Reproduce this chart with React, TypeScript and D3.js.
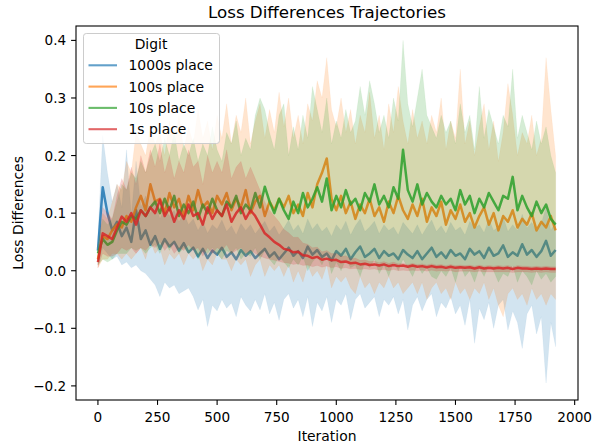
import React from 'react';
import * as d3 from 'd3';

// iteration index of every logged point
const iterations = d3.range(0, 1921, 20);

const digits = ['1000s place', '100s place', '10s place', '1s place'];
const colors = ['#1f77b4', '#ff7f0e', '#2ca02c', '#d62728'];

const xTicks = [0, 250, 500, 750, 1000, 1250, 1500, 1750, 2000];
const yTicks = [-0.2, -0.1, 0.0, 0.1, 0.2, 0.3, 0.4];

// 1000s place
const blueMean = [
  0.035, 0.145, 0.100, 0.070, 0.085, 0.060, 0.075, 0.050, 0.105, 0.055,
  0.070, 0.045, 0.060, 0.038, 0.055, 0.042, 0.050, 0.035, 0.048, 0.032,
  0.040, 0.025, 0.038, 0.022, 0.035, 0.028, 0.040, 0.024, 0.032, 0.020,
  0.036, 0.026, 0.034, 0.022, 0.030, 0.038, 0.024, 0.032, 0.020, 0.030,
  0.040, 0.026, 0.034, 0.022, 0.042, 0.028, 0.036, 0.024, 0.030, 0.018,
  0.034, 0.026, 0.038, 0.020, 0.032, 0.042, 0.024, 0.030, 0.038, 0.022,
  0.034, 0.026, 0.030, 0.020, 0.036, 0.028, 0.022, 0.034, 0.020, 0.030,
  0.040, 0.024, 0.032, 0.022, 0.036, 0.026, 0.030, 0.020, 0.038, 0.028,
  0.034, 0.022, 0.040, 0.026, 0.030, 0.044, 0.024, 0.032, 0.026, 0.046,
  0.028, 0.036, 0.024, 0.034, 0.052, 0.026, 0.036,
];
const blueLo = [
  0.010, 0.040, 0.030, 0.020, 0.025, 0.010, 0.015, 0.005, 0.010, 0.000,
  -0.005, -0.015, -0.025, -0.045, -0.020, -0.030, -0.025, -0.040, -0.035, -0.030,
  -0.045, -0.068, -0.050, -0.097, -0.060, -0.070, -0.050, -0.065, -0.056, -0.080,
  -0.045, -0.060, -0.070, -0.050, -0.068, -0.040, -0.075, -0.055, -0.086, -0.050,
  -0.040, -0.065, -0.050, -0.080, -0.045, -0.097, -0.055, -0.070, -0.045, -0.090,
  -0.050, -0.060, -0.040, -0.085, -0.050, -0.040, -0.065, -0.055, -0.045, -0.080,
  -0.050, -0.060, -0.045, -0.075, -0.050, -0.103, -0.060, -0.045, -0.070, -0.050,
  -0.040, -0.080, -0.055, -0.065, -0.045, -0.075, -0.060, -0.095, -0.050, -0.126,
  -0.065, -0.085, -0.055, -0.100, -0.060, -0.050, -0.103, -0.070, -0.090, -0.135,
  -0.075, -0.060, -0.110, -0.080, -0.195, -0.090, -0.132,
];
const blueHi = [
  0.060, 0.235, 0.170, 0.120, 0.150, 0.110, 0.210, 0.095, 0.190, 0.110,
  0.130, 0.100, 0.120, 0.090, 0.110, 0.095, 0.105, 0.085, 0.100, 0.080,
  0.090, 0.070, 0.085, 0.065, 0.080, 0.072, 0.088, 0.068, 0.078, 0.062,
  0.082, 0.070, 0.080, 0.064, 0.075, 0.086, 0.068, 0.078, 0.062, 0.074,
  0.088, 0.070, 0.080, 0.064, 0.090, 0.072, 0.082, 0.068, 0.076, 0.060,
  0.080, 0.070, 0.086, 0.062, 0.078, 0.090, 0.068, 0.076, 0.086, 0.064,
  0.080, 0.070, 0.076, 0.062, 0.084, 0.074, 0.064, 0.080, 0.062, 0.076,
  0.088, 0.068, 0.078, 0.064, 0.084, 0.070, 0.076, 0.062, 0.086, 0.074,
  0.080, 0.066, 0.090, 0.070, 0.076, 0.094, 0.068, 0.080, 0.070, 0.098,
  0.074, 0.084, 0.068, 0.082, 0.110, 0.070, 0.085,
];

// 100s place
const orangeMean = [
  0.020, 0.060, 0.055, 0.070, 0.080, 0.075, 0.095, 0.085, 0.110, 0.130,
  0.105, 0.150, 0.120, 0.125, 0.100, 0.135, 0.110, 0.125, 0.095, 0.130,
  0.105, 0.140, 0.110, 0.120, 0.100, 0.130, 0.115, 0.135, 0.105, 0.125,
  0.110, 0.140, 0.100, 0.120, 0.130, 0.095, 0.120, 0.105, 0.125, 0.110,
  0.130, 0.100, 0.115, 0.095, 0.135, 0.110, 0.150, 0.170, 0.195, 0.125,
  0.105, 0.130, 0.100, 0.120, 0.090, 0.115, 0.100, 0.125, 0.095, 0.110,
  0.085, 0.120, 0.100, 0.130, 0.105, 0.090, 0.115, 0.095, 0.125, 0.085,
  0.110, 0.095, 0.120, 0.080, 0.105, 0.090, 0.115, 0.085, 0.100, 0.075,
  0.095, 0.110, 0.080, 0.100, 0.070, 0.095, 0.085, 0.105, 0.075, 0.090,
  0.080, 0.100, 0.070, 0.085, 0.075, 0.095, 0.070,
];
const orangeLo = [
  0.005, 0.020, 0.020, 0.030, 0.030, 0.020, 0.030, 0.020, 0.030, 0.040,
  0.020, 0.050, 0.030, 0.040, 0.010, 0.030, 0.020, 0.030, 0.010, 0.030,
  0.020, 0.030, 0.000, 0.020, 0.010, 0.030, 0.020, 0.020, 0.000, 0.020,
  0.010, 0.020, -0.010, 0.010, 0.020, -0.010, 0.010, 0.000, 0.010, -0.010,
  0.010, -0.020, 0.000, -0.020, 0.010, -0.010, 0.000, -0.015, 0.010, -0.030,
  -0.010, -0.020, -0.010, -0.030, -0.040, -0.010, -0.030, -0.020, -0.040, -0.020,
  -0.030, -0.010, -0.030, -0.020, -0.040, -0.030, -0.020, -0.040, -0.020, -0.050,
  -0.030, -0.020, -0.040, -0.030, -0.050, -0.020, -0.040, -0.030, -0.050, -0.030,
  -0.040, -0.020, -0.050, -0.030, -0.060, -0.080, -0.040, -0.030, -0.050, -0.040,
  -0.060, -0.030, -0.050, -0.040, -0.060, -0.040, -0.050,
];
const orangeHi = [
  0.035, 0.100, 0.090, 0.120, 0.150, 0.140, 0.190, 0.170, 0.240, 0.220,
  0.200, 0.250, 0.220, 0.240, 0.200, 0.260, 0.220, 0.270, 0.210, 0.250,
  0.220, 0.280, 0.230, 0.260, 0.210, 0.270, 0.230, 0.290, 0.220, 0.270,
  0.240, 0.300, 0.220, 0.260, 0.290, 0.230, 0.280, 0.240, 0.310, 0.250,
  0.300, 0.230, 0.270, 0.220, 0.290, 0.260, 0.330, 0.300, 0.370, 0.280,
  0.250, 0.300, 0.240, 0.280, 0.220, 0.270, 0.240, 0.310, 0.230, 0.270,
  0.210, 0.290, 0.240, 0.320, 0.260, 0.220, 0.280, 0.230, 0.260, 0.220,
  0.270, 0.240, 0.300, 0.210, 0.260, 0.230, 0.350, 0.220, 0.260, 0.200,
  0.250, 0.290, 0.210, 0.260, 0.190, 0.240, 0.325, 0.270, 0.200, 0.240,
  0.220, 0.270, 0.200, 0.230, 0.370, 0.280, 0.200,
];

// 10s place
const greenMean = [
  0.030, 0.055, 0.045, 0.050, 0.070, 0.085, 0.080, 0.095, 0.090, 0.105,
  0.095, 0.110, 0.120, 0.100, 0.125, 0.105, 0.130, 0.095, 0.115, 0.100,
  0.120, 0.090, 0.115, 0.100, 0.125, 0.105, 0.095, 0.120, 0.110, 0.130,
  0.100, 0.115, 0.105, 0.135, 0.110, 0.146, 0.120, 0.100, 0.125, 0.105,
  0.090, 0.120, 0.100, 0.135, 0.110, 0.125, 0.145, 0.120, 0.160, 0.105,
  0.130, 0.110, 0.140, 0.115, 0.125, 0.105, 0.135, 0.120, 0.150, 0.115,
  0.130, 0.110, 0.145, 0.125, 0.210, 0.140, 0.120, 0.150, 0.115, 0.135,
  0.120, 0.110, 0.130, 0.115, 0.125, 0.105, 0.140, 0.115, 0.130, 0.100,
  0.125, 0.110, 0.135, 0.120, 0.105, 0.130, 0.125, 0.163, 0.105, 0.130,
  0.110, 0.095, 0.120, 0.100, 0.115, 0.090, 0.080,
];
const greenLo = [
  0.010, 0.020, 0.015, 0.020, 0.030, 0.030, 0.030, 0.040, 0.035, 0.040,
  0.030, 0.040, 0.045, 0.030, 0.050, 0.035, 0.050, 0.030, 0.040, 0.030,
  0.040, 0.020, 0.035, 0.030, 0.040, 0.030, 0.020, 0.035, 0.030, 0.040,
  0.020, 0.030, 0.025, 0.040, 0.020, 0.035, 0.020, 0.010, 0.025, 0.015,
  0.005, 0.020, 0.010, 0.025, 0.000, 0.015, 0.025, 0.010, 0.030, -0.005,
  0.015, 0.000, 0.020, 0.005, 0.010, -0.010, 0.015, 0.005, 0.020, -0.005,
  0.010, -0.010, 0.015, 0.000, 0.020, 0.005, -0.010, 0.010, -0.005, 0.005,
  -0.010, -0.015, 0.000, -0.010, 0.005, -0.020, 0.010, -0.010, 0.000, -0.020,
  0.005, -0.010, 0.010, 0.000, -0.020, -0.005, -0.010, 0.010, -0.020, 0.000,
  -0.010, -0.025, 0.000, -0.015, -0.005, -0.020, -0.010,
];
const greenHi = [
  0.045, 0.090, 0.080, 0.090, 0.120, 0.150, 0.140, 0.170, 0.160, 0.190,
  0.170, 0.200, 0.220, 0.190, 0.230, 0.200, 0.240, 0.190, 0.220, 0.200,
  0.230, 0.190, 0.220, 0.200, 0.250, 0.210, 0.190, 0.240, 0.220, 0.260,
  0.200, 0.230, 0.210, 0.270, 0.300, 0.280, 0.240, 0.210, 0.270, 0.290,
  0.200, 0.250, 0.210, 0.270, 0.230, 0.320, 0.280, 0.240, 0.300, 0.220,
  0.260, 0.230, 0.280, 0.240, 0.260, 0.320, 0.270, 0.330, 0.290, 0.240,
  0.270, 0.230, 0.300, 0.260, 0.400, 0.290, 0.250, 0.300, 0.350, 0.270,
  0.250, 0.230, 0.270, 0.240, 0.260, 0.220, 0.290, 0.240, 0.270, 0.210,
  0.320, 0.230, 0.280, 0.250, 0.220, 0.270, 0.250, 0.350, 0.230, 0.270,
  0.240, 0.210, 0.260, 0.220, 0.250, 0.200, 0.170,
];

// 1s place
const redMean = [
  0.015, 0.065, 0.060, 0.055, 0.075, 0.094, 0.085, 0.100, 0.080, 0.105,
  0.095, 0.110, 0.100, 0.123, 0.095, 0.110, 0.085, 0.105, 0.090, 0.115,
  0.095, 0.100, 0.080, 0.110, 0.090, 0.105, 0.095, 0.115, 0.085, 0.100,
  0.110, 0.090, 0.105, 0.095, 0.080, 0.065, 0.058, 0.050, 0.045, 0.038,
  0.036, 0.032, 0.033, 0.027, 0.026, 0.022, 0.024, 0.019, 0.021, 0.018,
  0.019, 0.015, 0.016, 0.013, 0.014, 0.011, 0.012, 0.010, 0.011, 0.009,
  0.011, 0.008, 0.010, 0.008, 0.009, 0.007, 0.009, 0.007, 0.008, 0.006,
  0.008, 0.006, 0.007, 0.005, 0.007, 0.005, 0.006, 0.005, 0.006, 0.004,
  0.006, 0.004, 0.005, 0.004, 0.005, 0.004, 0.005, 0.003, 0.005, 0.004,
  0.004, 0.003, 0.004, 0.003, 0.004, 0.003, 0.003,
];
const redLo = [
  0.005, 0.030, 0.025, 0.025, 0.030, 0.040, 0.035, 0.040, 0.030, 0.040,
  0.035, 0.045, 0.040, 0.050, 0.035, 0.045, 0.030, 0.040, 0.035, 0.045,
  0.035, 0.040, 0.025, 0.040, 0.030, 0.040, 0.035, 0.045, 0.030, 0.035,
  0.040, 0.030, 0.035, 0.030, 0.025, 0.022, 0.020, 0.018, 0.016, 0.014,
  0.013, 0.011, 0.012, 0.009, 0.010, 0.007, 0.009, 0.006, 0.008, 0.005,
  0.007, 0.004, 0.005, 0.003, 0.004, 0.002, 0.003, 0.002, 0.003, 0.001,
  0.002, 0.000, 0.002, 0.000, 0.001, 0.000, 0.001, 0.000, 0.001, -0.001,
  0.001, -0.001, 0.000, -0.001, 0.000, -0.002, -0.001, -0.001, -0.001, -0.002,
  -0.001, -0.002, -0.002, -0.002, -0.002, -0.002, -0.002, -0.003, -0.002, -0.002,
  -0.002, -0.003, -0.002, -0.003, -0.002, -0.003, -0.003,
];
const redHi = [
  0.025, 0.110, 0.100, 0.090, 0.130, 0.160, 0.140, 0.180, 0.150, 0.200,
  0.170, 0.210, 0.180, 0.220, 0.170, 0.200, 0.160, 0.190, 0.170, 0.210,
  0.180, 0.190, 0.150, 0.200, 0.170, 0.190, 0.170, 0.210, 0.160, 0.180,
  0.190, 0.160, 0.180, 0.160, 0.140, 0.120, 0.105, 0.095, 0.085, 0.072,
  0.066, 0.058, 0.058, 0.048, 0.046, 0.040, 0.041, 0.033, 0.035, 0.030,
  0.030, 0.025, 0.026, 0.021, 0.022, 0.018, 0.019, 0.016, 0.017, 0.014,
  0.016, 0.013, 0.015, 0.012, 0.013, 0.011, 0.013, 0.011, 0.012, 0.010,
  0.012, 0.010, 0.011, 0.009, 0.011, 0.009, 0.010, 0.009, 0.010, 0.008,
  0.010, 0.008, 0.009, 0.008, 0.009, 0.008, 0.009, 0.007, 0.009, 0.008,
  0.008, 0.007, 0.008, 0.007, 0.008, 0.007, 0.007,
];

const means = [blueMean, orangeMean, greenMean, redMean];
const lows = [blueLo, orangeLo, greenLo, redLo];
const highs = [blueHi, orangeHi, greenHi, redHi];

const FONT = '"DejaVu Sans", sans-serif';

export default function App() {
  const width = 592;
  const height = 448;
  const plot = { left: 76, right: 578, top: 26, bottom: 400 };

  const x = d3.scaleLinear().domain([-92, 2014]).range([plot.left, plot.right]);
  const y = d3.scaleLinear().domain([-0.2245, 0.425]).range([plot.bottom, plot.top]);

  const series = digits.map((name, k) => ({
    name,
    color: colors[k],
    mean: means[k],
    lo: lows[k],
    hi: highs[k],
  }));

  return (
    <svg
      width={width}
      height={height}
      style={{ position: 'fixed', left: 0, top: 0, background: '#fff' }}
      fontFamily={FONT}
    >
      <defs>
        <clipPath id="plot-clip">
          <rect x={plot.left} y={plot.top} width={plot.right - plot.left} height={plot.bottom - plot.top} />
        </clipPath>
      </defs>

      {/* line first, then its band, the way seaborn stacks them */}
      <g clipPath="url(#plot-clip)">
        {series.map((s) => {
          const line = d3
            .line<number>()
            .x((_, i) => x(iterations[i]))
            .y((d) => y(d));
          const area = d3
            .area<number>()
            .x((_, i) => x(iterations[i]))
            .y0((_, i) => y(s.lo[i]))
            .y1((d) => y(d));
          return (
            <g key={s.name}>
              <path d={line(s.mean) || ''} fill="none" stroke={s.color} strokeWidth={2.5} strokeOpacity={0.85} strokeLinejoin="round" />
              <path d={area(s.hi) || ''} fill={s.color} fillOpacity={0.2} stroke={s.color} strokeOpacity={0.05} strokeWidth={1} />
            </g>
          );
        })}
      </g>

      {/* spines */}
      <rect
        x={plot.left}
        y={plot.top}
        width={plot.right - plot.left}
        height={plot.bottom - plot.top}
        fill="none"
        stroke="#000"
        strokeWidth={1.1}
      />

      {/* x axis */}
      {xTicks.map((t) => (
        <g key={t} transform={`translate(${x(t)},${plot.bottom})`}>
          <line y2={4.9} stroke="#000" strokeWidth={1.1} />
          <text y={22} textAnchor="middle" fontSize={13.6} fill="#000">
            {t}
          </text>
        </g>
      ))}
      <text x={(plot.left + plot.right) / 2} y={441} textAnchor="middle" fontSize={13.9}>
        Iteration
      </text>

      {/* y axis */}
      {yTicks.map((t) => (
        <g key={t} transform={`translate(${plot.left},${y(t)})`}>
          <line x2={-4.9} stroke="#000" strokeWidth={1.1} />
          <text x={-9.8} dy={5} textAnchor="end" fontSize={13.6} fill="#000">
            {t < 0 ? '\u2212' + Math.abs(t).toFixed(1) : t.toFixed(1)}
          </text>
        </g>
      ))}
      <text
        transform={`translate(23,${(plot.top + plot.bottom) / 2}) rotate(-90)`}
        textAnchor="middle"
        fontSize={13.9}
      >
        Loss Differences
      </text>

      {/* title */}
      <text x={(plot.left + plot.right) / 2} y={17.5} textAnchor="middle" fontSize={16.7}>
        Loss Differences Trajectories
      </text>

      {/* legend */}
      <g>
        <rect x={83.5} y={33.5} width={136} height={110} rx={2.8} fill="#fff" fillOpacity={0.8} stroke="#cccccc" strokeWidth={1} />
        <text x={151} y={49} textAnchor="middle" fontSize={13.9}>
          Digit
        </text>
        {series.map((s, k) => (
          <g key={s.name} transform={`translate(0,${65.3 + k * 21.3})`}>
            <line x1={88.5} x2={117} stroke={s.color} strokeWidth={2.1} strokeOpacity={0.7} />
            <text x={128.5} y={5} fontSize={13.9}>
              {s.name}
            </text>
          </g>
        ))}
      </g>
    </svg>
  );
}
